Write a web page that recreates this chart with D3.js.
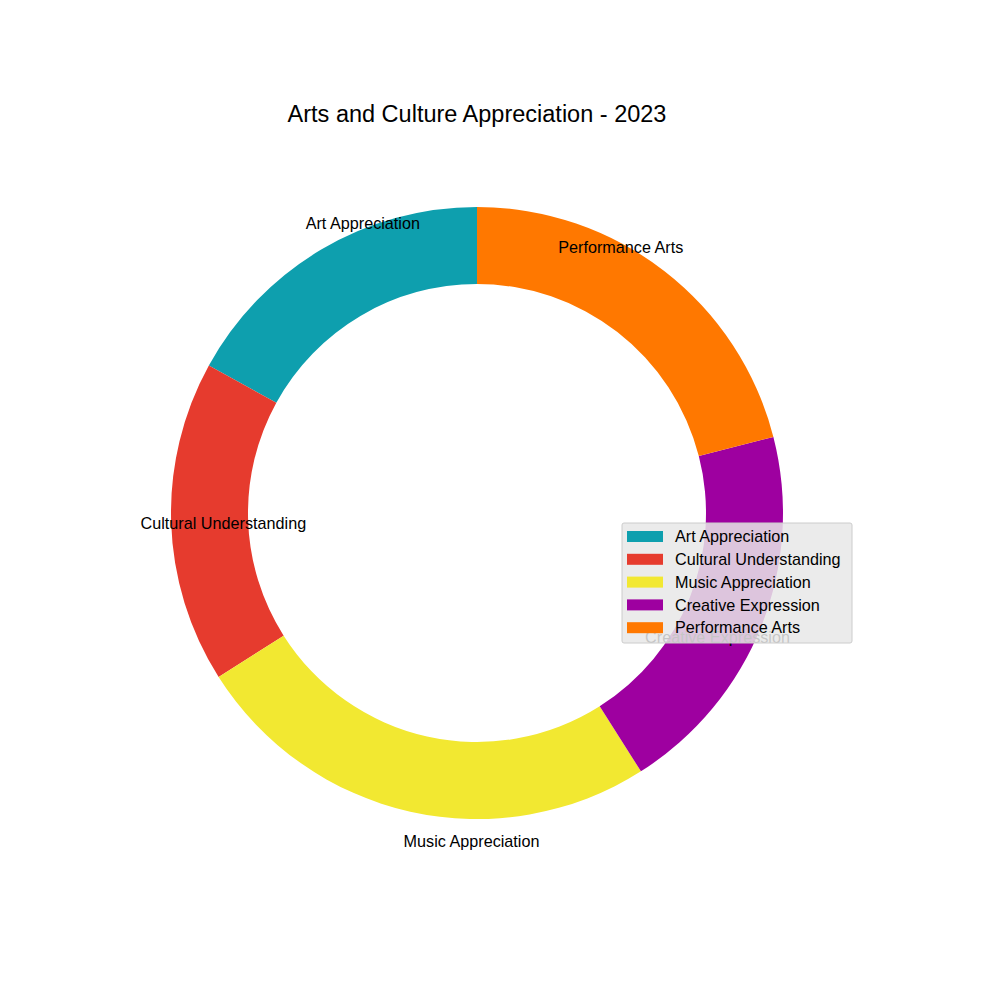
<!DOCTYPE html>
<html><head><meta charset="utf-8">
<script src="https://cdn.jsdelivr.net/npm/d3@7"></script>
<style>body{margin:0;background:#fff}svg{font-family:"Liberation Sans",Arial,sans-serif}</style>
</head><body>
<svg id="chart" width="1000" height="1000"></svg>
<script>
const categories = ["Art Appreciation", "Cultural Understanding", "Music Appreciation", "Creative Expression", "Performance Arts"];
const values = [17, 17, 25, 20, 21];
const colors = ["#0e9fae", "#e63b2e", "#f2e831", "#9e00a0", "#ff7800"];

const svg = d3.select("#chart");
const cx = 477, cy = 513, R = 306, r = 229;

svg.append("text").attr("x", cx).attr("y", 122).attr("text-anchor", "middle")
  .attr("font-size", 23.5).text("Arts and Culture Appreciation - 2023");

// counterclockwise from 12 o'clock, like matplotlib startangle=90
const pie = d3.pie().sort(null).startAngle(0).endAngle(-2 * Math.PI);
const arcs = pie(values);
const arc = d3.arc().innerRadius(r).outerRadius(R);
const g = svg.append("g").attr("transform", `translate(${cx},${cy})`);

g.selectAll("path").data(arcs).enter().append("path")
  .attr("d", arc).attr("fill", (d, i) => colors[i]);

g.selectAll(".lbl").data(arcs).enter().append("text")
  .attr("class", "lbl")
  .each(function (d, i) {
    const a = (d.startAngle + d.endAngle) / 2;
    const x = Math.sin(a) * R * 1.1, y = -Math.cos(a) * R * 1.1;
    d3.select(this).attr("x", x).attr("y", y).attr("dy", "0.35em")
      .attr("text-anchor", x < 0 ? "start" : "end")
      .attr("font-size", 16.2).text(categories[i]);
  });

const leg = svg.append("g").attr("transform", "translate(622,523)");
leg.append("rect").attr("width", 230).attr("height", 120).attr("rx", 2)
  .attr("fill", "#e8e8e8").attr("fill-opacity", 0.85).attr("stroke", "#cccccc");
categories.forEach((c, i) => {
  leg.append("rect").attr("x", 5).attr("y", 8 + i * 22.8).attr("width", 36).attr("height", 11)
    .attr("fill", colors[i]);
  leg.append("text").attr("x", 53).attr("y", 13.5 + i * 22.8).attr("dy", "0.35em")
    .attr("font-size", 16.2).text(c);
});
</script>
</body></html>
